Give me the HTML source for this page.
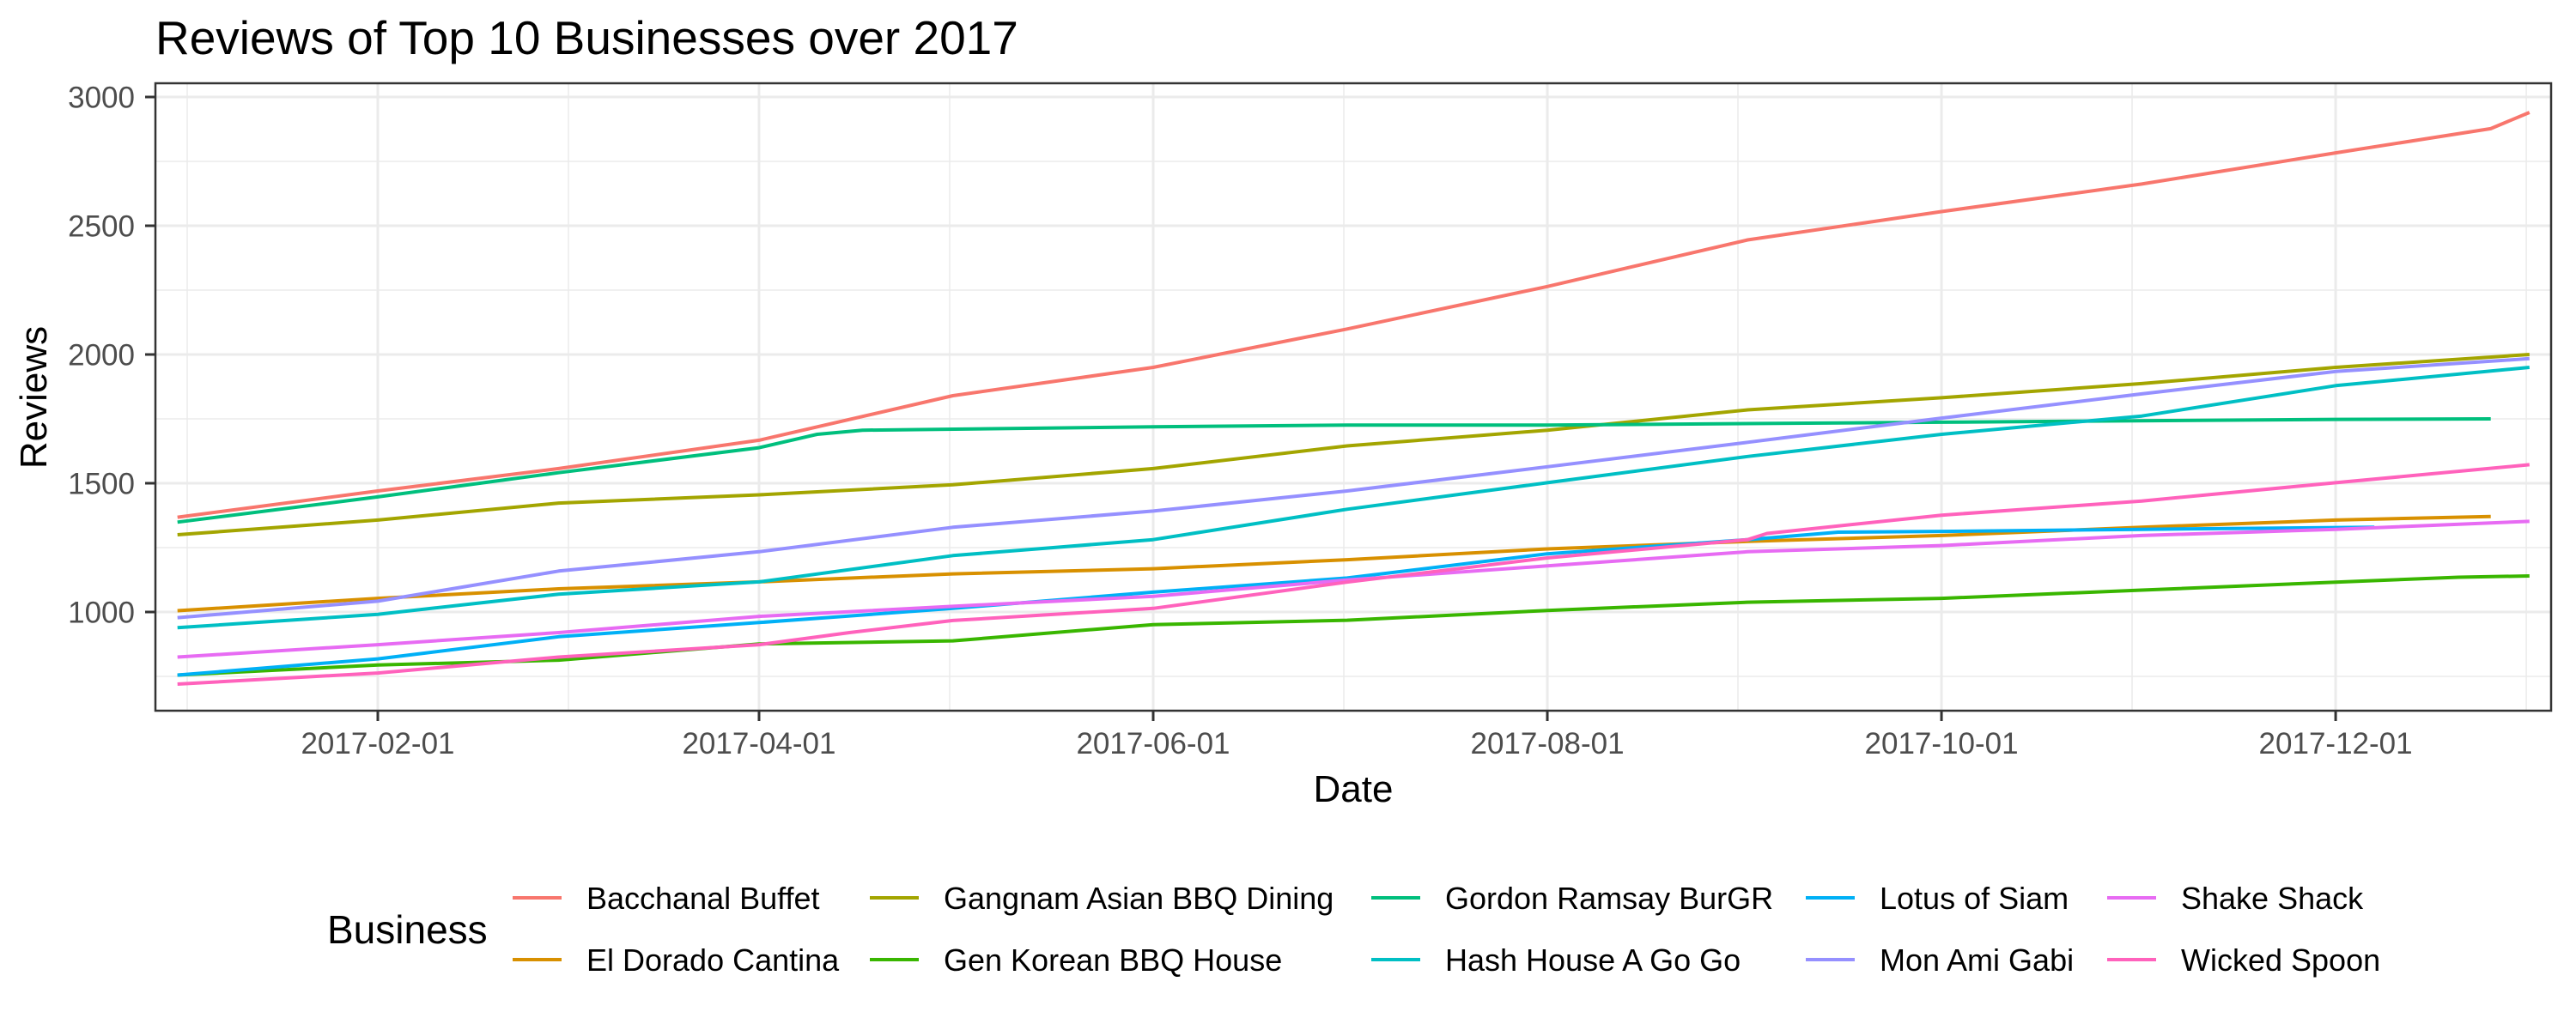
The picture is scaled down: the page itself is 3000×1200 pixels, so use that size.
<!DOCTYPE html>
<html><head><meta charset="utf-8"><style>
html,body{margin:0;padding:0;background:#fff;}
svg{display:block;font-family:"Liberation Sans",Arial,sans-serif;}
</style></head><body>
<svg id="chart" width="3000" height="1200" viewBox="0 0 3000 1200" xmlns="http://www.w3.org/2000/svg">
<rect width="3000" height="1200" fill="#fff"/>
<text x="181" y="63" font-size="55" fill="#000">Reviews of Top 10 Businesses over 2017</text>
<g id="grid"></g>
<g id="series"></g>
<rect x="181" y="97" width="2790" height="731" fill="none" stroke="#333" stroke-width="2.5"/>
<g id="axes"></g>
<text x="1576" y="934" font-size="44" text-anchor="middle" fill="#000">Date</text>
<text transform="translate(54,463) rotate(-90)" font-size="44" text-anchor="middle" fill="#000">Reviews</text>
<text x="381" y="1099" font-size="46" fill="#000">Business</text>
<g id="legend"></g>
</svg>
<script>
const businesses = ["Bacchanal Buffet","El Dorado Cantina","Gangnam Asian BBQ Dining","Gen Korean BBQ House","Gordon Ramsay BurGR","Hash House A Go Go","Lotus of Siam","Mon Ami Gabi","Shake Shack","Wicked Spoon"];
const colors = ["#F8766D","#D89000","#A3A500","#39B600","#00BF7D","#00BFC4","#00B0F6","#9590FF","#E76BF3","#FF62BC"];
const yTicks = [1000,1500,2000,2500,3000];
const xTickDates = ["2017-02-01","2017-04-01","2017-06-01","2017-08-01","2017-10-01","2017-12-01"];
const bacchanalDates = ["2017-01-01","2017-02-01","2017-03-01","2017-04-01","2017-05-01","2017-06-01","2017-07-01","2017-08-01","2017-09-01","2017-10-01","2017-11-01","2017-12-01","2017-12-25","2017-12-31"];
const bacchanalValues = [1368,1470,1557,1667,1840,1950,2099,2264,2445,2555,2662,2783,2877,2940];
const elDoradoDates = ["2017-01-01","2017-02-01","2017-03-01","2017-04-01","2017-05-01","2017-06-01","2017-07-01","2017-08-01","2017-09-01","2017-10-01","2017-11-01","2017-12-01","2017-12-25"];
const elDoradoValues = [1005,1053,1090,1117,1148,1168,1203,1245,1274,1297,1329,1357,1371];
const gangnamDates = ["2017-01-01","2017-02-01","2017-03-01","2017-04-01","2017-05-01","2017-06-01","2017-07-01","2017-08-01","2017-09-01","2017-10-01","2017-11-01","2017-12-01","2017-12-31"];
const gangnamValues = [1300,1357,1423,1455,1494,1557,1645,1706,1785,1832,1887,1950,2000];
const genKoreanDates = ["2017-01-01","2017-02-01","2017-03-01","2017-04-01","2017-05-01","2017-06-01","2017-07-01","2017-08-01","2017-09-01","2017-10-01","2017-11-01","2017-12-01","2017-12-20","2017-12-31"];
const genKoreanValues = [755,794,813,876,888,951,968,1006,1038,1053,1085,1116,1135,1140];
const gordonDates = ["2017-01-01","2017-02-01","2017-03-01","2017-04-01","2017-04-10","2017-04-17","2017-06-01","2017-07-01","2017-08-01","2017-10-01","2017-12-01","2017-12-25"];
const gordonValues = [1349,1447,1541,1638,1690,1706,1719,1726,1726,1737,1748,1750];
const hashDates = ["2017-01-01","2017-02-01","2017-03-01","2017-04-01","2017-05-01","2017-06-01","2017-07-01","2017-08-01","2017-09-01","2017-10-01","2017-11-01","2017-12-01","2017-12-31"];
const hashValues = [939,991,1069,1117,1219,1281,1399,1502,1604,1690,1761,1879,1950];
const lotusDates = ["2017-01-01","2017-02-01","2017-03-01","2017-04-01","2017-05-01","2017-06-01","2017-07-01","2017-08-01","2017-09-01","2017-09-15","2017-10-01","2017-11-01","2017-12-07"];
const lotusValues = [755,818,904,959,1014,1077,1132,1226,1281,1310,1313,1321,1329];
const monAmiDates = ["2017-01-01","2017-02-01","2017-03-01","2017-04-01","2017-05-01","2017-06-01","2017-07-01","2017-08-01","2017-09-01","2017-10-01","2017-11-01","2017-12-01","2017-12-31"];
const monAmiValues = [978,1042,1159,1234,1329,1392,1470,1564,1659,1753,1847,1934,1984];
const shakeDates = ["2017-01-01","2017-02-01","2017-03-01","2017-04-01","2017-05-01","2017-06-01","2017-07-01","2017-08-01","2017-09-01","2017-10-01","2017-11-01","2017-12-01","2017-12-31"];
const shakeValues = [825,873,920,983,1022,1061,1124,1179,1234,1258,1297,1321,1352];
const wickedDates = ["2017-01-01","2017-02-01","2017-03-01","2017-04-01","2017-04-15","2017-05-01","2017-06-01","2017-07-01","2017-08-01","2017-09-01","2017-09-04","2017-10-01","2017-11-01","2017-12-01","2017-12-31"];
const wickedValues = [720,763,825,873,920,967,1014,1116,1210,1281,1305,1376,1431,1502,1572];

const seriesDates = [bacchanalDates,elDoradoDates,gangnamDates,genKoreanDates,gordonDates,hashDates,lotusDates,monAmiDates,shakeDates,wickedDates];
const seriesValues = [bacchanalValues,elDoradoValues,gangnamValues,genKoreanValues,gordonValues,hashValues,lotusValues,monAmiValues,shakeValues,wickedValues];

const NS = "http://www.w3.org/2000/svg";
const P = {l:181, t:97, r:2971, b:828};
const feb1 = Date.UTC(2017,1,1);
function dayOf(s){const p=s.split("-");return (Date.UTC(+p[0],+p[1]-1,+p[2])-feb1)/86400000;}
function xScale(s){return 440 + dayOf(s)*7.525;}
function yScale(v){return 713 - (v-1000)*0.3;}
function mk(tag, attrs, parent){const e=document.createElementNS(NS,tag);for(const k in attrs)e.setAttribute(k,attrs[k]);parent.appendChild(e);return e;}

const grid = document.getElementById("grid");
const axes = document.getElementById("axes");
mk("rect",{x:P.l,y:P.t,width:P.r-P.l,height:P.b-P.t,fill:"#fff"},grid);
for(let i=0;i<yTicks.length;i++){
  const v = yTicks[i]-250;
  const y=yScale(v);
  if(y>P.t&&y<P.b){const e=mk("line",{x1:P.l,x2:P.r,y1:y,y2:y,stroke:"#EBEBEB","stroke-width":1.5},grid);
  
  }
}
const xMajor = xTickDates.map(xScale);
const step = xMajor[1]-xMajor[0];
for(let i=-1;i<xMajor.length;i++){
  const x=(i<0?xMajor[0]-step/2:xMajor[i]+step/2);
  if(x>P.l&&x<P.r){const e=mk("line",{x1:x,x2:x,y1:P.t,y2:P.b,stroke:"#EBEBEB","stroke-width":1.5},grid);
  
  }
}
yTicks.forEach(v=>{
  const y=yScale(v);
  const g=mk("line",{x1:P.l,x2:P.r,y1:y,y2:y,stroke:"#EBEBEB","stroke-width":3},grid);
  
  
  const t=mk("line",{x1:P.l-12,x2:P.l,y1:y,y2:y,stroke:"#333","stroke-width":3},axes);
  
  
  const lb=mk("text",{x:P.l-24,y:y+12.5,"font-size":35,"text-anchor":"end",fill:"#4D4D4D"},axes);
  lb.textContent=v;
  
  
});
xTickDates.forEach(d=>{
  const x=xScale(d);
  const g=mk("line",{x1:x,x2:x,y1:P.t,y2:P.b,stroke:"#EBEBEB","stroke-width":3},grid);
  
  
  const t=mk("line",{x1:x,x2:x,y1:P.b,y2:P.b+12,stroke:"#333","stroke-width":3},axes);
  
  
  const lb=mk("text",{x:x,y:878,"font-size":35,"text-anchor":"middle",fill:"#4D4D4D"},axes);
  lb.textContent=d;
  
  
});

const sg = document.getElementById("series");
businesses.forEach((b,i)=>{
  const ds=seriesDates[i], vs=seriesValues[i];
  const pts=ds.map((d,j)=>xScale(d).toFixed(1)+","+yScale(vs[j]).toFixed(1)).join(" ");
  const pl=mk("polyline",{points:pts,fill:"none",stroke:colors[i],"stroke-width":4,"stroke-linejoin":"round"},sg);
  
  
});

const lg = document.getElementById("legend");
const colKeyX = [597,1013,1597,2103,2454];
const rowY = [1046,1118];
businesses.forEach((b,i)=>{
  const col=Math.floor(i/2), row=i%2;
  const kx=colKeyX[col], ky=rowY[row];
  const k=mk("line",{x1:kx,x2:kx+57,y1:ky,y2:ky,stroke:colors[i],"stroke-width":4},lg);
  
  
  const t=mk("text",{x:kx+86,y:ky+13,"font-size":36,fill:"#000"},lg);
  t.textContent=b;
  
  
});
</script>
</body></html>
